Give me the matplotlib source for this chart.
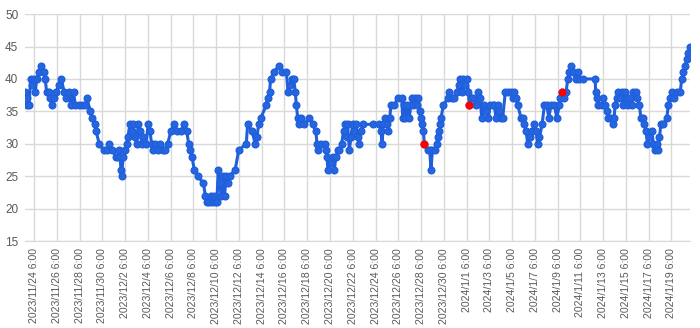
import matplotlib
matplotlib.use('Agg')
from matplotlib import pyplot as plt
from datetime import datetime, timedelta

# time of each reading, in days after 2023/11/24 6:00
days = [
    -0.79, -0.65, -0.59, -0.44, -0.32, -0.21, -0.06, 0.09, 0.23, 0.38, 0.62, 0.82, 0.97, 1.09,
    1.26, 1.41, 1.56, 1.76, 1.94, 2.14, 2.38, 2.64, 2.82, 3.02, 3.23, 3.46, 3.61, 3.90, 4.20,
    4.49, 4.64, 4.93, 5.08, 5.31, 5.43, 5.72, 6.10, 6.40, 6.60, 6.84, 7.22,
    7.33, 7.47, 7.56, 7.62, 7.68, 7.82, 8.00, 8.12, 8.23, 8.41, 8.56, 8.70, 8.85, 9.00, 9.14,
    9.29, 9.47, 9.58, 9.82, 10.02, 10.17, 10.32, 10.46, 10.64, 10.85, 11.05, 11.29, 11.49,
    11.73, 12.02, 12.31, 12.55, 12.90, 13.19, 13.40, 13.58, 13.69, 13.87, 14.07, 14.37, 14.87,
    15.04, 15.16, 15.34, 15.54,
    15.62, 15.77, 15.91, 16.06, 16.18, 16.29, 16.44, 16.59, 16.73, 16.88, 17.03, 17.17, 17.67,
    17.97, 18.64, 18.76, 19.14, 19.43, 19.58, 19.73, 19.93, 20.40, 20.55, 20.69, 20.78, 21.05,
    21.49, 21.78, 22.17, 22.31, 22.51, 22.66, 22.81, 22.95, 23.04, 23.16, 23.28, 23.45, 23.75,
    24.15, 24.47, 24.76, 24.85, 24.97, 25.20, 25.56, 25.64, 25.73, 25.82, 26.08, 26.23, 26.38,
    26.52, 26.67, 26.82, 27.02, 27.20, 27.32, 27.46, 27.55, 27.70, 27.84, 27.99, 28.14, 28.28,
    28.43, 28.58, 28.72, 28.87, 29.75, 30.34, 30.48, 30.57, 30.69, 30.84, 30.98, 31.13, 31.25,
    31.36, 31.66, 31.95,
    32.30, 32.39, 32.50, 32.62, 32.80, 32.97, 33.18, 33.33, 33.47, 33.62, 33.77, 33.88, 34.00,
    34.12, 34.21, 34.29, 34.59, 34.76, 34.88, 35.00, 35.23, 35.38, 35.47, 35.58, 35.67, 35.76,
    35.97, 36.35, 36.46, 36.70, 36.93, 37.14, 37.35, 37.43, 37.58, 37.73, 37.87, 38.02, 38.17,
    38.25, 38.40, 38.61, 38.81, 39.05, 39.19, 39.34, 39.58, 39.69, 39.93, 40.07, 40.37,
    40.44, 40.59, 40.74, 40.88, 41.03, 41.18, 41.41, 41.62, 41.91, 42.06, 42.21, 42.35, 42.50,
    42.79, 42.94, 43.09, 43.23, 43.38, 43.58, 43.76, 43.97, 44.11, 44.26, 44.41, 44.64, 44.85,
    45.05, 45.23, 45.43, 45.73, 45.93, 46.17, 46.25, 46.37, 46.61, 46.75, 46.90, 47.05, 47.19,
    47.40, 47.58, 47.78, 47.93, 48.22,
    49.30, 49.35, 49.44, 49.59, 49.88, 50.03, 50.18, 50.32, 50.47, 50.67, 50.85, 50.97, 51.06,
    51.20, 51.35, 51.50, 51.64, 51.79, 51.94, 52.08, 52.23, 52.38, 52.52, 52.67, 52.90, 53.02,
    53.20, 53.32, 53.49, 53.61, 53.79, 53.90, 54.08, 54.28, 54.43, 54.58, 54.72, 54.87, 54.96,
    55.08, 55.31, 55.60, 55.75, 55.90, 56.04, 56.25, 56.48, 56.78, 56.92, 57.07, 57.22, 57.36,
    57.51, 57.66,
]
values = [
    38, 37, 36, 36, 40, 39, 40, 38, 40, 41, 42, 41, 40, 38,
    38, 37, 36, 37, 38, 39, 40, 38, 37, 38, 36, 38, 36, 36, 36,
    36, 37, 35, 34, 33, 32, 30, 29, 29, 30, 29, 28,
    28, 29, 28, 26, 25, 28, 29, 30, 31, 33, 32, 33, 31, 30, 33,
    32, 30, 31, 30, 33, 32, 30, 29, 30, 29, 30, 29, 29,
    30, 32, 33, 32, 32, 33, 32, 30, 29, 28, 26, 25, 24,
    22, 21, 21, 22,
    21, 22, 21, 21, 26, 24, 22, 25, 22, 25, 24, 25, 26,
    29, 30, 33, 32, 30, 31, 33, 34, 36, 37, 38, 40, 41,
    42, 41, 41, 38, 39, 40, 40, 38, 36, 34, 33, 34, 33,
    34, 33, 32, 30, 29, 30, 30, 29, 28, 26, 27, 28, 26,
    28, 29, 29, 30, 32, 33, 31, 33, 29, 31, 33, 32, 33,
    31, 30, 32, 33, 33, 33, 32, 30, 33, 34, 33, 32, 34,
    36, 36, 37,
    37, 34, 36, 34, 36, 34, 37, 36, 37, 36, 37, 35, 34,
    33, 32, 30, 29, 29, 26, 29, 29, 30, 31, 32, 33, 34,
    36, 37, 38, 37, 37, 38, 39, 40, 38, 40, 39, 40, 38,
    36, 37, 37, 36, 38, 37, 34, 36, 35, 34, 36, 36,
    36, 34, 36, 35, 34, 34, 38, 38, 38, 37, 38, 37, 36,
    34, 34, 33, 32, 30, 31, 32, 33, 32, 30, 31, 33, 36,
    36, 34, 36, 36, 34, 36, 37, 38, 37, 38, 40, 41, 42,
    41, 40, 41, 40, 40,
    40, 38, 37, 36, 36, 37, 36, 35, 34, 34, 33, 34, 36,
    37, 38, 37, 38, 36, 38, 37, 36, 37, 36, 38, 38, 37,
    36, 34, 34, 33, 32, 30, 31, 32, 30, 29, 30, 29, 31,
    33, 33, 34, 36, 37, 38, 37, 38, 38, 40, 41, 42, 43,
    44, 45,
]

# highlighted readings
red_days = [34.29, 38.25, 46.37]
red_values = [30, 36, 38]

start = datetime(2023, 11, 24, 6)
times = [start + timedelta(days=d) for d in days]
red_times = [start + timedelta(days=d) for d in red_days]
tick_times = [start + timedelta(days=2 * k) for k in range(29)]
tick_labels = [f'{t.year}/{t.month}/{t.day} 6:00' for t in tick_times]

plt.rcParams['font.family'] = ['Liberation Sans', 'DejaVu Sans']

fig = plt.figure(figsize=(7, 3.28), dpi=100)
ax = fig.add_axes([0.036, 0.265, 0.950, 0.692])

ax.plot(times, values, color='#1f5fdb', lw=2.2, marker='o', ms=4.8,
        markerfacecolor='#2566e0', markeredgecolor='#1f5fdb', zorder=3)
ax.plot(red_times, red_values, ls='none', marker='o', ms=4.8,
        color='#ff0000', zorder=4)

ax.set_ylim(15, 50)
ax.set_yticks(range(15, 51, 5))
ax.set_xlim(times[0], times[-1])
ax.set_xticks(tick_times)
ax.set_xticklabels(tick_labels, rotation=90)

ax.grid(True, color='#d9d9d9', lw=1)
ax.set_axisbelow(True)
for side in ['left', 'right', 'top']:
    ax.spines[side].set_visible(False)
ax.spines['bottom'].set_color('#d9d9d9')
ax.tick_params(axis='both', length=0, colors='#595959')
ax.tick_params(axis='x', pad=5, labelsize=7.6)
ax.tick_params(axis='y', pad=5, labelsize=8.5)

fig.savefig('out.png', dpi=100, facecolor='white')
